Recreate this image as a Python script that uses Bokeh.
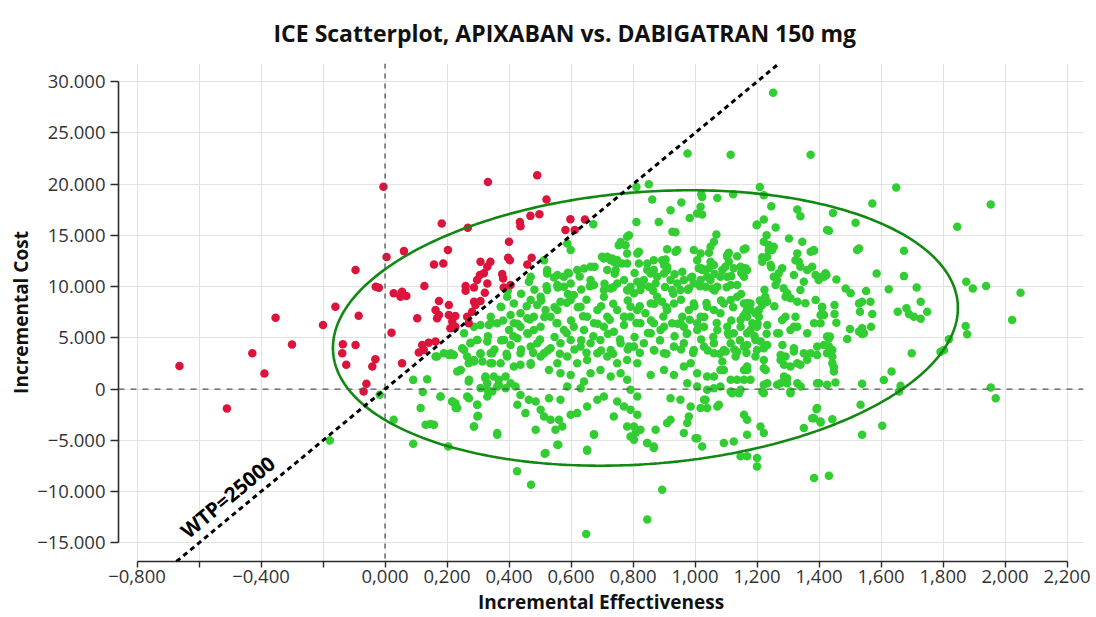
import math
import numpy as np
from bokeh.plotting import figure
from bokeh.models import Range1d, FixedTicker, CustomJSTickFormatter, Span, Slope
from bokeh.embed import file_html
from bokeh.resources import INLINE
from bokeh.core.properties import value

TITLE = "ICE Scatterplot, APIXABAN vs. DABIGATRAN 150 mg"
X_LABEL = "Incremental Effectiveness"
Y_LABEL = "Incremental Cost"
WTP = 25000
WTP_LABEL = "WTP=25000"

x_ticks = [-0.8, -0.6, -0.4, -0.2, 0.0, 0.2, 0.4, 0.6, 0.8, 1.0, 1.2, 1.4, 1.6, 1.8, 2.0, 2.2]
x_tick_labels = ["\u22120,800", "", "\u22120,400", "", "0,000", "0,200", "0,400", "0,600", "0,800",
                 "1,000", "1,200", "1,400", "1,600", "1,800", "2,000", "2,200"]
y_ticks = [-15000, -10000, -5000, 0, 5000, 10000, 15000, 20000, 25000, 30000]
y_tick_labels = ["\u221215.000", "\u221210.000", "\u22125.000", "0", "5.000", "10.000",
                 "15.000", "20.000", "25.000", "30.000"]

# 95% ellipse: centre, half extents, correlation
ell_center_eff = 0.84
ell_center_cost = 5970
ell_half_eff = 1.008
ell_half_cost = 13440
ell_corr = 0.145

# simulations above the WTP line (incremental effectiveness, incremental cost)
red_points = [
    (-0.663, 2270), (-0.51, -1900), (-0.428, 3500), (-0.389, 1530), (-0.353, 6975), (-0.30, 4350),
    (-0.20, 6260), (-0.16, 8050), (-0.136, 4380), (-0.138, 3500), (-0.125, 2370), (-0.095, 4310),
    (-0.095, 11620), (-0.085, 7170), (-0.06, 520), (-0.069, -230), (-0.041, 2200), (-0.031, 2920),
    (-0.03, 10000), (-0.02, 9900), (-0.005, 19750), (0.005, 12900), (0.021, 5510), (0.028, 9350),
    (0.05, 9020), (0.055, 9510), (0.069, 9090), (0.061, 13470), (0.055, 2530), (0.104, 6915),
    (0.109, 3570), (0.12, 4310), (0.125, 3830), (0.141, 4540), (0.163, 4640), (0.127, 10060),
    (0.158, 12170), (0.188, 12270), (0.183, 16170), (0.203, 13570), (0.163, 7720), (0.174, 7240),
    (0.168, 6915), (0.174, 8600), (0.206, 8210), (0.206, 7240), (0.227, 7140), (0.217, 6590),
    (0.211, 5940), (0.227, 6100), (0.265, 7070), (0.281, 7560), (0.27, 6430), (0.26, 10060),
    (0.287, 9930), (0.26, 9600), (0.287, 8530), (0.308, 8600), (0.292, 8210), (0.322, 9410),
    (0.33, 10320), (0.306, 11130), (0.319, 11300), (0.297, 10650), (0.308, 12430), (0.34, 12430),
    (0.33, 11940), (0.267, 15740), (0.332, 20220), (0.378, 11230), (0.381, 10810), (0.383, 9930),
    (0.405, 10160), (0.40, 14380), (0.397, 12820), (0.403, 12590), (0.435, 16320), (0.437, 15900),
    (0.459, 12170), (0.473, 12820), (0.469, 16910), (0.498, 17070), (0.491, 20870), (0.521, 18500),
    (0.582, 15520), (0.612, 15520), (0.598, 16590), (0.645, 16560),
]

# simulations below the WTP line
green_points = [
    (-0.178, -5000), (-0.017, -555), (0.028, -2990), (0.091, 905), (0.136, 975), (0.122, -290),
    (0.115, -1850), (0.131, -3480), (0.147, -3410), (0.091, -5330), (0.204, -5590), (0.179, -720),
    (0.217, -1210), (0.227, -1365), (0.233, -1850), (0.265, -720), (0.297, -1530), (0.300, -2600),
    (0.287, -3640), (0.362, -4290), (0.270, 740), (0.308, 100), (0.330, -720), (0.362, 250),
    (0.163, 3175), (0.206, 3340), (0.222, 3340), (0.265, 3175), (0.249, 3990), (0.276, 4540),
    (0.297, 4800), (0.330, 4640), (0.244, 1880), (0.270, 2530), (0.287, 2690), (0.314, 2690),
    (0.340, 2530), (0.346, 3500), (0.308, 3440), (0.324, 1230), (0.351, 1230), (0.330, 585),
    (0.426, -8020), (0.471, -9320), (0.649, -14130), (0.846, -12730), (0.894, -9810), (0.515, -6300),
    (0.559, -5420), (0.652, -6010), (0.674, -4390), (0.867, -5750), (0.846, -5260), (0.803, -4940),
    (0.808, -4290), (0.781, -3640), (1.002, -4780), (1.023, -5590),
    (0.335, 6260), (0.400, 5780), (0.416, 6420), (0.437, 6100), (0.459, 5450), (0.480, 5780),
    (0.502, 6100), (0.556, 6420), (0.577, 5780), (0.609, 6100), (0.642, 5780), (0.674, 6420),
    (0.706, 6100), (0.738, 5610), (0.771, 6260), (0.255, 5450), (0.276, 4480), (0.298, 4800),
    (0.384, 4800), (0.405, 4310), (0.427, 4960), (0.470, 4150), (0.491, 4480), (0.513, 3500),
    (0.534, 3990), (0.566, 4480), (0.599, 4800), (0.631, 4150), (0.663, 4480), (0.695, 4800),
    (0.728, 3830), (0.760, 4480), (0.787, 4150), (0.212, 3500), (0.255, 3830), (0.287, 2850),
    (0.308, 3500), (0.341, 3500), (0.373, 2530), (0.394, 3180), (0.437, 3500), (0.470, 2530),
    (0.502, 3180), (0.529, 1880), (0.556, 2530), (0.588, 3180), (0.620, 2530), (0.652, 2850),
    (0.685, 3500), (0.717, 3180), (0.749, 2530), (0.781, 2850), (0.168, 3180), (0.190, 3500),
    (0.244, 1880), (0.233, 1720), (0.271, 910), (0.324, 1070), (0.346, 2530), (0.367, 910),
    (0.389, 1230), (0.405, 580), (0.437, 2370), (0.416, 2200), (0.470, 2370), (0.566, 1560),
    (0.599, 1390), (0.642, 740), (0.663, 1560), (0.695, 1880), (0.728, 1230), (0.760, 1560),
    (0.781, 910), (0.179, -720), (0.217, -1200), (0.228, -1850), (0.271, -880), (0.298, -1530),
    (0.298, -2670), (0.287, -3640), (0.330, -70), (0.346, -230), (0.367, 420), (0.389, 90),
    (0.421, 260), (0.427, -1530), (0.437, -560), (0.453, -2340), (0.464, -1040), (0.486, -1200),
    (0.502, -2020), (0.513, -2670), (0.529, -880), (0.534, -2990), (0.561, -2990), (0.566, -1040),
    (0.572, -3640), (0.550, -3960), (0.599, -2500), (0.620, -2340), (0.652, -1690), (0.685, -1040),
    (0.706, -720), (0.738, -2670), (0.749, -1200), (0.771, -1690), (0.792, -2020), (0.158, -3480),
    (0.362, -4450), (0.486, -3960), (0.518, -6240), (0.556, -5430), (0.652, -5910), (0.674, -4450),
    (0.588, 260), (0.631, 90),
    (0.672, 16100), (0.588, 14220), (0.599, 13570), (0.760, 14220), (0.776, 14050), (0.781, 14870),
    (0.706, 12750), (0.733, 12750), (0.749, 12590), (0.765, 12270), (0.781, 12270), (0.513, 12590),
    (0.663, 11940), (0.717, 11620), (0.744, 11620), (0.523, 11620), (0.470, 10970), (0.464, 10480),
    (0.556, 11130), (0.577, 10970), (0.593, 11290), (0.620, 11620), (0.642, 11780), (0.556, 10160),
    (0.577, 10000), (0.599, 10320), (0.609, 9180), (0.663, 10650), (0.674, 10160), (0.706, 9670),
    (0.728, 9830), (0.749, 10320), (0.771, 10650), (0.781, 9670), (0.502, 9020), (0.523, 9670),
    (0.470, 8700), (0.491, 8210), (0.416, 8370), (0.394, 9020), (0.373, 8050), (0.405, 7240),
    (0.437, 7400), (0.459, 6910), (0.480, 7070), (0.518, 7720), (0.534, 7070), (0.556, 7720),
    (0.566, 8530), (0.599, 8700), (0.631, 8050), (0.652, 7070), (0.685, 7720), (0.706, 9020),
    (0.717, 7070), (0.749, 7720), (0.771, 7070), (0.792, 8050), (0.341, 7070), (0.362, 6420),
    (0.308, 6260), (0.287, 6100),
    (0.760, 14370), (0.787, 15020), (0.754, 14050), (0.781, 13240), (0.819, 13400), (0.700, 12910),
    (0.728, 12590), (0.749, 12260),
    (0.851, 20000), (0.811, 19730), (0.862, 18500), (1.020, 19020), (1.023, 18760), (1.072, 18660),
    (1.123, 19020), (1.209, 19730), (1.222, 18920), (0.956, 18210), (0.921, 17460), (0.811, 16320),
    (0.883, 16320), (0.983, 16710), (1.007, 17140), (1.023, 17040), (1.018, 17790), (0.927, 15350),
    (0.937, 15300), (1.246, 17850), (1.222, 16560), (1.200, 16070), (1.260, 15780), (1.330, 17530),
    (1.340, 16880), (1.426, 15520), (1.303, 14710), (1.346, 14380), (1.069, 15100), (1.061, 14380),
    (1.050, 13890), (1.045, 13300), (1.231, 15030), (1.222, 14380), (1.238, 14060), (1.254, 13890),
    (1.249, 13570), (1.233, 12920), (1.217, 12860), (1.163, 13730), (1.109, 13300), (1.104, 13080),
    (0.996, 13570), (1.018, 13250), (1.007, 12590), (0.910, 13660), (0.937, 13400), (0.943, 13570),
    (0.814, 13250), (0.819, 12270), (0.867, 12590), (0.894, 12590), (0.905, 12660), (0.900, 12110),
    (0.910, 11620), (1.050, 12430), (1.061, 12110), (1.045, 11790), (1.109, 12430), (1.098, 11940),
    (1.088, 11620), (1.136, 12980), (1.157, 13640), (1.125, 11790), (1.147, 11940), (1.163, 11790),
    (1.168, 11620), (0.959, 11450), (0.991, 10970), (1.012, 11790), (1.023, 11620), (1.034, 11620),
    (1.330, 13250), (1.324, 12590), (1.335, 12430), (1.340, 11940), (1.362, 11620), (1.378, 11940),
    (1.383, 13570), (1.217, 12430), (1.244, 12110), (1.281, 11790), (1.270, 11300), (1.254, 10970),
    (1.265, 10650), (1.260, 10160), (1.286, 9840), (1.292, 9020), (1.297, 9350), (1.389, 11130),
    (1.410, 10970), (1.421, 11300), (1.399, 10650), (1.319, 11130), (1.351, 10480), (1.340, 9670),
    (1.308, 8860), (1.330, 8530), (1.356, 8380), (1.324, 7070), (1.389, 8700), (1.410, 8050),
    (1.415, 7240), (1.227, 9020), (1.233, 8530), (1.217, 8210), (1.206, 7720), (1.195, 7400),
    (1.206, 7070), (1.168, 7070), (1.163, 7400), (1.147, 6750), (1.179, 7720), (1.185, 6430),
    (1.292, 7070), (1.319, 6100), (1.233, 6260),
    (0.846, 11620), (0.857, 11290), (0.835, 10650), (0.814, 10480), (0.792, 10000), (0.803, 9350),
    (0.824, 9670), (0.851, 10000), (0.873, 10320), (0.867, 11620), (0.878, 10970), (0.900, 11290),
    (0.910, 11940), (0.921, 10650), (0.943, 10320), (0.964, 10650), (0.926, 9670), (0.953, 9670),
    (0.980, 9830), (0.996, 10320), (1.018, 10650), (1.039, 10970), (1.050, 10650), (1.034, 10000),
    (1.055, 9830), (1.072, 10000), (1.082, 10970), (1.104, 10970), (1.115, 10160), (1.136, 10160),
    (1.158, 10970), (1.136, 9020), (1.115, 8700), (1.093, 8370), (1.082, 7400), (1.061, 7720),
    (1.039, 8050), (1.018, 7070), (0.996, 8370), (0.980, 7720), (0.959, 7070), (0.932, 8370),
    (0.910, 7720), (0.894, 8530), (0.878, 9020), (0.857, 8370), (0.840, 7400), (0.814, 7720),
    (0.792, 7070), (0.824, 6420), (0.867, 6420), (0.900, 6100), (0.926, 6420), (0.964, 6100),
    (1.007, 6420), (1.029, 6100), (1.104, 6100), (1.168, 7720), (1.179, 8370), (1.158, 8370),
    (1.200, 6100),
    (0.857, 5450), (0.889, 5780), (0.953, 6420), (0.975, 5450), (1.007, 5780), (1.072, 5780),
    (1.125, 5450), (1.147, 6100), (1.179, 5780), (1.265, 5450), (1.330, 6100), (1.362, 5450),
    (1.405, 6420), (1.426, 5130),
    (0.803, 4150), (0.835, 4480), (0.867, 3830), (0.900, 3500), (0.932, 4150), (0.964, 4480),
    (0.996, 3830), (1.029, 4150), (1.061, 4480), (1.093, 3830), (1.115, 4480), (1.136, 3660),
    (1.168, 4310), (1.200, 3830), (1.222, 3990), (1.276, 3340), (1.319, 3670), (1.351, 3500),
    (1.394, 4150), (1.426, 3500),
    (0.814, 2530), (0.857, 1390), (0.900, 1880), (0.932, 1390), (0.964, 2200), (0.986, 2530),
    (1.007, 1560), (1.039, 1230), (1.082, 1880), (1.115, 910), (1.136, 910), (1.168, 1880),
    (1.179, 910), (1.222, 2040), (1.233, 580), (1.287, 1230), (1.297, 580), (1.308, -230),
    (1.330, 580), (1.287, 2370), (1.340, 2370), (1.394, 580), (1.426, 420),
    (0.792, -70), (0.814, -720), (0.921, -880), (0.953, -1040), (0.975, 580), (1.007, 260),
    (1.039, -70), (1.082, 260), (1.115, -230), (1.147, -70), (1.217, -230), (1.265, 420),
    (0.814, -2500), (0.803, -3640), (0.824, -3960), (0.792, -4610), (0.846, -5260), (0.867, -5590),
    (0.873, -3960), (0.910, -3310), (0.921, -2990), (0.964, -4290), (0.975, -3310), (0.980, -2670),
    (1.007, -4780), (0.986, -1690), (1.018, -1850), (1.034, -1040), (1.039, -1850), (1.072, -1690),
    (1.077, -1530), (1.093, -5260), (1.125, -5100), (1.158, -2500), (1.168, -2990), (1.168, -4450),
    (1.211, -3640), (1.222, -4290), (1.147, -6560), (1.168, -6560), (1.200, -6720), (1.200, -7540),
    (1.351, -3800), (1.378, -2830), (1.394, -1850), (1.405, -3150),
    (1.649, 19670), (1.572, 18110), (1.846, 15840), (1.445, 17200), (1.518, 16230), (1.432, 15450),
    (1.523, 13570), (1.529, 13730), (1.674, 13500), (1.586, 11290), (1.674, 11030), (1.416, 10970),
    (1.424, 11130), (1.456, 10710), (1.486, 9830), (1.502, 9350), (1.552, 9570), (1.625, 9740),
    (1.715, 9930), (1.875, 10480), (1.896, 9830), (1.410, 7980), (1.416, 7240), (1.450, 8210),
    (1.450, 7330), (1.456, 6490), (1.529, 8370), (1.539, 8530), (1.566, 8530), (1.532, 7560),
    (1.572, 7330), (1.568, 6100), (1.539, 5940), (1.539, 5390), (1.500, 5870), (1.491, 4900),
    (1.654, 7560), (1.682, 7890), (1.690, 7330), (1.706, 7070), (1.728, 6880), (1.728, 8530),
    (1.749, 7560), (1.873, 6170), (1.878, 5350), (1.819, 4870), (1.792, 3660), (1.803, 3830),
    (1.699, 3500), (1.435, 5130), (1.432, 4150), (1.443, 3830), (1.443, 2530), (1.448, 2140),
    (1.634, 1720), (1.609, 900), (1.539, 520), (1.453, 640), (1.663, 320), (1.658, -230),
    (1.534, -1530), (1.604, -3580), (1.539, -4450), (1.443, -2930),
    (2.023, 6750), (1.954, 160), (1.970, -880), (1.384, -8670), (1.432, -8440), (1.392, -1950),
    (1.384, -2830), (1.405, -3250), (1.545, 5450), (1.529, 5620), (1.448, 1720), (1.400, 580),
    (1.394, 3340), (1.362, 2860), (1.373, 3500), (1.330, 2530), (1.308, 2200), (1.341, 260),
    (1.308, -390), (1.276, 580), (1.297, 1070), (1.222, 420), (1.222, -390), (1.158, 910),
    (1.120, -390), (1.142, -390), (1.061, 90), (1.029, -1040), (1.061, 1230), (1.093, 1880),
    (1.088, 2690), (1.061, 3500), (1.228, 1880), (1.222, 2850), (1.195, 3180), (1.158, 1880),
    (1.168, 2200), (1.131, 3180), (1.276, 2850), (1.292, 3180), (1.319, 3990), (1.282, 4320),
    (1.233, 4320), (1.158, 4150), (1.195, 4800), (1.212, 4640), (1.168, 5450), (1.109, 5290),
    (1.099, 3670), (1.271, 5450), (1.308, 5780), (1.281, 6750), (1.384, 6430), (1.405, 7240),
    (1.432, 4960), (1.443, 3180), (1.416, 4320),
    (1.252, 28920), (1.115, 22880), (1.373, 22880), (0.976, 23000), (1.954, 18010), (1.939, 10060),
    (2.050, 9410), (1.199, 15990), (1.373, 13400), (1.384, 13500),
    # dense core, read from the middle of the cloud
    (0.717, 12910), (0.738, 12430), (0.846, 12260), (1.104, 12910), (1.238, 13560),
    (0.523, 11290), (0.545, 10890), (0.590, 11370), (0.628, 10990), (0.676, 11940), (0.741, 11250),
    (0.805, 11330), (0.934, 11210), (0.987, 10900), (1.020, 11810), (1.063, 11260), (1.117, 11030),
    (1.149, 11330), (1.246, 11900),
    (0.396, 9610), (0.439, 9300), (0.482, 9710), (0.521, 10040), (0.557, 9930), (0.590, 9280),
    (0.633, 9720), (0.661, 10050), (0.708, 10290), (0.736, 9950), (0.783, 9620), (0.826, 10030),
    (0.865, 9600), (0.903, 9960), (0.930, 9300), (0.977, 9710), (1.016, 10040), (1.063, 9620),
    (1.102, 9950), (1.149, 9290), (1.224, 9690),
    (0.375, 8010), (0.457, 8080), (0.504, 8650), (0.547, 8000), (0.586, 8420), (0.622, 7990),
    (0.650, 8730), (0.697, 8090), (0.736, 8330), (0.783, 8650), (0.822, 8090), (0.869, 8330),
    (0.908, 8000), (0.955, 8720), (0.998, 8080), (1.037, 8410), (1.084, 8650), (1.123, 8000),
    (1.170, 8410), (1.209, 8650), (1.256, 8080),
    (0.342, 6460), (0.381, 6700), (0.428, 6380), (0.467, 6790), (0.514, 7040), (0.553, 6460),
    (0.600, 6700), (0.639, 7110), (0.686, 6380), (0.725, 6780), (0.772, 7030), (0.811, 6460),
    (0.858, 6700), (0.898, 7100), (0.944, 6380), (0.983, 6780), (1.030, 7030), (1.070, 6460),
    (1.117, 6700), (1.156, 7110), (1.202, 6380),
    (0.332, 5160), (0.375, 4760), (0.414, 5170), (0.461, 5410), (0.500, 4840), (0.547, 5080),
    (0.586, 5490), (0.633, 4760), (0.672, 5170), (0.719, 5410), (0.758, 4840), (0.805, 5080),
    (0.848, 5490), (0.887, 4760), (0.934, 5160), (0.973, 5410), (1.020, 4840), (1.059, 5080),
    (1.106, 5490), (1.145, 4760), (1.192, 5170), (1.231, 5410),
    (0.353, 3860), (0.392, 3460), (0.439, 3870), (0.478, 3540), (0.525, 3780), (0.564, 3460),
    (0.611, 3860), (0.650, 3540), (0.697, 3780), (0.736, 3460), (0.783, 3860), (0.822, 3540),
    (0.869, 3780), (0.908, 3460), (0.955, 3860), (0.994, 3540), (1.041, 3780), (1.080, 3460),
    (1.127, 3860), (1.166, 3540),
]

FONT = "Open Sans"
X0, X1 = -0.8597, 2.2532
Y0, Y1 = -16820, 31780
FRAME_W, FRAME_H = 965, 499

p = figure(width=1090, height=617, x_range=Range1d(X0, X1), y_range=Range1d(Y0, Y1),
           output_backend="svg", toolbar_location=None,
           min_border_left=118, min_border_right=7, min_border_top=63, min_border_bottom=55)
p.outline_line_color = None
p.background_fill_color = "white"
p.border_fill_color = "white"

fmt_code = """
for (let i = 0; i < tvals.length; i++) {
  if (Math.abs(tvals[i] - tick) < 1e-9) { return tlabels[i]; }
}
return "";
"""
p.xaxis.ticker = FixedTicker(ticks=x_ticks)
p.xaxis.formatter = CustomJSTickFormatter(args=dict(tvals=x_ticks, tlabels=x_tick_labels), code=fmt_code)
p.xaxis.bounds = (x_ticks[0], x_ticks[-1])
p.yaxis.ticker = FixedTicker(ticks=y_ticks)
p.yaxis.formatter = CustomJSTickFormatter(args=dict(tvals=y_ticks, tlabels=y_tick_labels), code=fmt_code)
p.yaxis.bounds = (y_ticks[0], y_ticks[-1])

for ax in (p.xaxis, p.yaxis):
    ax.axis_line_color = "#2b2b2b"
    ax.axis_line_width = 1.6
    ax.major_tick_line_color = "#2b2b2b"
    ax.major_tick_line_width = 1.4
    ax.major_tick_in = 0
    ax.minor_tick_line_color = None
    ax.major_label_text_font = FONT
    ax.major_label_text_font_size = "18.5px"
    ax.major_label_text_color = "#333333"
    ax.axis_label_text_font = FONT
    ax.axis_label_text_font_size = "19px"
    ax.axis_label_text_font_style = "bold"
    ax.axis_label_text_color = "#111111"

p.xaxis.axis_label = X_LABEL
p.yaxis.axis_label = Y_LABEL
p.xaxis.major_tick_out = 6
p.xaxis.major_label_standoff = 2
p.xaxis.axis_label_standoff = 3
p.yaxis.major_tick_out = 8
p.yaxis.major_label_standoff = 5
p.yaxis.axis_label_standoff = 0

p.xgrid.grid_line_color = "#e2e2e2"
p.ygrid.grid_line_color = "#e2e2e2"
p.xgrid.grid_line_width = 1
p.ygrid.grid_line_width = 1

p.title.text = TITLE
p.title.text_font = FONT
p.title.text_font_size = "23px"
p.title.text_font_style = "bold"
p.title.text_color = "#111111"
p.title.align = "left"
p.title.vertical_align = "top"
p.title.offset = 155
p.title.standoff = 25

red_eff = [pt[0] for pt in red_points]
red_cost = [pt[1] for pt in red_points]
green_eff = [pt[0] for pt in green_points]
green_cost = [pt[1] for pt in green_points]

p.scatter(green_eff, green_cost, size=8.5, fill_color="#32cd32", line_color=None)
p.scatter(red_eff, red_cost, size=8.5, fill_color="#dc143c", line_color=None)

p.add_layout(Span(location=0, dimension="height", line_color="#555555", line_width=1.3, line_dash="5 5"))
p.add_layout(Span(location=0, dimension="width", line_color="#555555", line_width=1.3, line_dash="6 6"))

t = np.linspace(0, 2 * np.pi, 400)
ell_x = ell_center_eff + ell_half_eff * np.cos(t)
ell_y = ell_center_cost + ell_half_cost * (ell_corr * np.cos(t) + math.sqrt(1 - ell_corr ** 2) * np.sin(t))
p.line(ell_x, ell_y, line_color="#118811", line_width=2.6)

p.add_layout(Slope(gradient=WTP, y_intercept=0, line_color="black", line_width=3, line_dash="5 4"))

px_per_x = FRAME_W / (X1 - X0)
px_per_y = FRAME_H / (Y1 - Y0)
wtp_angle = math.atan(WTP * px_per_y / px_per_x)
p.text(x=[-0.508], y=[-10490], text=[WTP_LABEL], angle=wtp_angle, text_align="center",
       text_baseline="middle", text_font=value(FONT), text_font_style="bold",
       text_font_size="20.5px", text_color="black")

open("out.html", "w").write(file_html(p, INLINE))
